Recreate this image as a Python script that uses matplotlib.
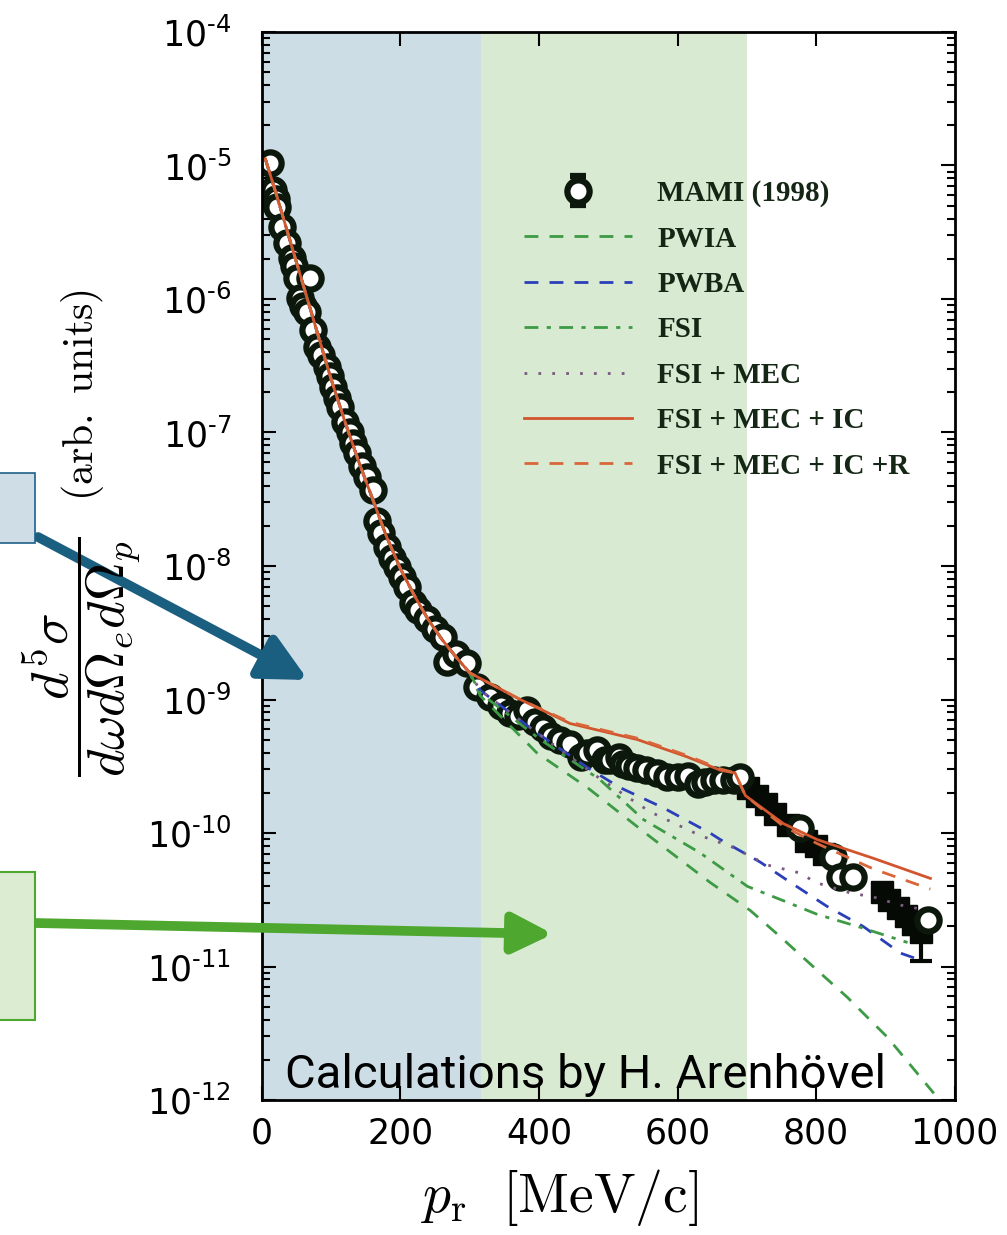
import matplotlib
matplotlib.use('Agg')
import matplotlib.pyplot as plt
from matplotlib.patches import Rectangle
import numpy as np

plt.rcParams['mathtext.fontset'] = 'dejavusans'

# MAMI (1998) data, p_r in MeV/c and log10 of cross section
mami_p = [12, 16, 20, 22, 29, 36, 43, 46, 51, 55, 60, 65, 69, 74, 80, 86, 94, 98, 103,
          108, 113, 120, 127, 132, 137, 145, 152, 160, 166, 172, 181, 188, 195, 202, 210,
          218, 226, 238, 250, 262, 267, 280, 296, 311, 330, 345, 358, 370, 383, 395, 406,
          418, 431, 445, 460, 470, 484, 495, 503, 515, 522, 530, 542, 555, 571, 585, 600,
          615, 629, 640, 652, 665, 681, 690, 777, 825, 835, 854, 961]
mami_log = [-4.98, -5.18, -5.25, -5.31, -5.46, -5.58, -5.69, -5.75, -5.84, -5.99, -6.05,
            -6.10, -5.84, -6.23, -6.36, -6.42, -6.51, -6.58, -6.66, -6.74, -6.81, -6.92,
            -7.00, -7.08, -7.15, -7.25, -7.33, -7.43, -7.66, -7.75, -7.86, -7.94, -8.01,
            -8.08, -8.16, -8.28, -8.33, -8.40, -8.47, -8.53, -8.72, -8.66, -8.73, -8.91,
            -8.98, -9.05, -9.10, -9.12, -9.08, -9.17, -9.21, -9.27, -9.30, -9.33, -9.43,
            -9.40, -9.38, -9.45, -9.45, -9.43, -9.48, -9.50, -9.51, -9.53, -9.55, -9.58,
            -9.58, -9.57, -9.63, -9.62, -9.60, -9.60, -9.60, -9.58, -9.96, -10.18, -10.33,
            -10.33, -10.65]

# high-momentum points drawn as dark blobs with error bars
blob_p = [702, 715, 728, 740, 760, 785, 800, 812, 895, 905, 918, 930, 940, 952]
blob_log = [-9.66, -9.72, -9.78, -9.86, -9.94, -10.06, -10.10, -10.16, -10.44, -10.50,
            -10.56, -10.62, -10.68, -10.74]
blob_err = [0.03, 0.03, 0.03, 0.03, 0.04, 0.04, 0.04, 0.04, 0.05, 0.05, 0.06, 0.06, 0.08, 0.22]

# theory curves (shared low-momentum part)
th_p_low = [5, 20, 40, 60, 80, 100, 120, 140, 160, 180, 200, 220, 240, 260, 280, 300]
th_log_low = [-4.95, -5.20, -5.55, -5.90, -6.25, -6.60, -6.92, -7.22, -7.50, -7.78,
              -8.02, -8.22, -8.40, -8.55, -8.68, -8.80]

pwia_p = [315, 397, 470, 561, 647, 705, 749, 802, 845, 903, 970]
pwia_log = [-8.97, -9.40, -9.66, -10.03, -10.37, -10.58, -10.78, -11.03, -11.23, -11.53, -11.95]

pwba_p = [315, 397, 470, 517, 579, 647, 662, 720, 763, 816, 868, 922, 955]
pwba_log = [-8.93, -9.25, -9.51, -9.66, -9.81, -10.00, -10.05, -10.22, -10.37, -10.55,
            -10.70, -10.90, -10.96]

fsi_p = [315, 402, 488, 551, 633, 701, 759, 802, 860, 932]
fsi_log = [-8.95, -9.30, -9.60, -9.90, -10.15, -10.40, -10.52, -10.61, -10.70, -10.82]

mec_p = [315, 400, 490, 560, 633, 677, 730, 777, 799, 850, 883, 922, 961]
mec_log = [-8.93, -9.26, -9.60, -9.84, -10.02, -10.10, -10.24, -10.30, -10.37, -10.45,
           -10.48, -10.54, -10.58]

ic_p = [373, 445, 542, 614, 662, 683, 698, 753, 802, 883, 965]
ic_log = [-9.00, -9.18, -9.30, -9.43, -9.53, -9.55, -9.72, -9.93, -10.05, -10.19, -10.34]

icr_p = [373, 445, 542, 614, 662, 683, 698, 753, 802, 883, 965]
icr_log = [-9.00, -9.17, -9.29, -9.42, -9.52, -9.55, -9.72, -9.95, -10.08, -10.27, -10.42]

fig = plt.figure(figsize=(10.07, 12.35), dpi=100)
ax = fig.add_axes([0.260, 0.1093, 0.688, 0.8648])

ax.axvspan(0, 316, color='#cddde6', lw=0, zorder=0)
ax.axvspan(316, 700, color='#d8ebd2', lw=0, zorder=0)


def curve(p_hi, log_hi):
    return np.array(th_p_low + p_hi), 10.0 ** np.array(th_log_low + log_hi)


x, y = curve(pwia_p, pwia_log)
ax.plot(x, y, color='#3d9a45', ls=(0, (5, 4)), lw=2, label='PWIA', zorder=3)
x, y = curve(pwba_p, pwba_log)
ax.plot(x, y, color='#2b3fb8', ls=(0, (5, 4)), lw=2, label='PWBA', zorder=3)
x, y = curve(fsi_p, fsi_log)
ax.plot(x, y, color='#3d9a45', ls=(0, (5, 3, 1.5, 3)), lw=2, label='FSI', zorder=3)
x, y = curve(mec_p, mec_log)
ax.plot(x, y, color='#7a5a80', ls=(0, (1, 4)), lw=2, label='FSI + MEC', zorder=3)
x, y = curve(ic_p, ic_log)
ax.plot(x, y, color='#d2552e', ls='-', lw=2, label='FSI + MEC + IC', zorder=4)
x, y = curve(icr_p, icr_log)
ax.plot(x, y, color='#d9653a', ls=(0, (5, 4)), lw=2, label='FSI + MEC + IC +R', zorder=4)

blob_y = 10.0 ** np.array(blob_log)
ax.errorbar(blob_p, blob_y, yerr=[blob_y * (1 - 10.0 ** -np.array(blob_err)), blob_y * 0],
            fmt='s', ms=16, mfc='#050a05', mec='#050a05', ecolor='#050a05', elinewidth=3,
            capsize=8, capthick=3, zorder=2)
mami_y = 10.0 ** np.array(mami_log)
ax.errorbar(mami_p, mami_y, yerr=mami_y * 0.04, fmt='o', ms=16, mfc='white',
            mec='#0b180b', mew=4.5, ecolor='#0b180b', elinewidth=3, capsize=6, capthick=3,
            label='MAMI (1998)', zorder=2)

ax.set_yscale('log')
ax.set_xlim(0, 1000)
ax.set_ylim(1e-12, 1e-4)
ax.set_xticks([0, 200, 400, 600, 800, 1000])
ax.set_xticklabels(['0', '200', '400', '600', '800', '1000'])
ax.set_yticks([10.0 ** -k for k in range(4, 13)])
ax.set_yticklabels([r'$10^{\text{-}%d}$' % k for k in range(4, 13)])
ax.tick_params(axis='both', which='both', direction='in', top=True, right=True,
               labelsize=25, width=1.5)
ax.tick_params(which='major', length=10)
ax.tick_params(which='minor', length=6)
ax.tick_params(axis='x', pad=12)
ax.tick_params(axis='y', pad=22)
for s in ax.spines.values():
    s.set_linewidth(2)

ax.set_xlabel(r'$p_\mathrm{r}\ \ [\mathrm{MeV/c}]$', fontsize=40, math_fontfamily='cm')
ax.xaxis.set_label_coords(0.43, -0.063)

# y label: big fraction plus "(arb. units)" (figure pixels)
fig.text(82, 1235 - 657, r'$\dfrac{d^5\sigma}{d\omega d\Omega_e d\Omega_p}$',
         transform=None, rotation=90, ha='center', va='center', fontsize=38,
         math_fontfamily='cm')
fig.text(82, 1235 - 395, r'$\mathrm{(arb.\ units)}$', transform=None, rotation=90,
         ha='center', va='center', fontsize=30, math_fontfamily='cm')

h, l = ax.get_legend_handles_labels()
order = [6, 0, 1, 2, 3, 4, 5]
ax.legend([h[i] for i in order], [l[i] for i in order], loc='upper left',
          bbox_to_anchor=(0.341, 0.886), frameon=False, handlelength=3.7, handletextpad=0.86,
          labelspacing=0.63, prop={'family': 'Liberation Serif', 'weight': 'bold', 'size': 21},
          labelcolor='#142614')

ax.text(0.033, 0.011, 'Calculations by H. Arenhövel', transform=ax.transAxes,
        fontsize=34, family='Roboto', color='black', zorder=6)

# side boxes and arrows (figure pixels)
fig.patches.append(Rectangle((-5, 1235 - 543), 40, 70, transform=None,
                             facecolor='#cfdde6', edgecolor='#1f5f8b', lw=1.2))
fig.patches.append(Rectangle((-5, 1235 - 1020), 40, 148, transform=None,
                             facecolor='#dbecd3', edgecolor='#4ea72e', lw=1.5))
ax.annotate('', xy=(308, 1235 - 680), xytext=(38, 1235 - 537),
            xycoords='figure pixels', textcoords='figure pixels',
            arrowprops=dict(arrowstyle='-|>,head_length=2.8,head_width=1.4',
                            color='#1a5e80', lw=7, shrinkA=0, shrinkB=0), zorder=10)
ax.annotate('', xy=(553, 1235 - 934), xytext=(35, 1235 - 923),
            xycoords='figure pixels', textcoords='figure pixels',
            arrowprops=dict(arrowstyle='-|>,head_length=2.4,head_width=1.2',
                            color='#4ea72e', lw=7, shrinkA=0, shrinkB=0), zorder=10)

fig.savefig('out.png', dpi=100)
